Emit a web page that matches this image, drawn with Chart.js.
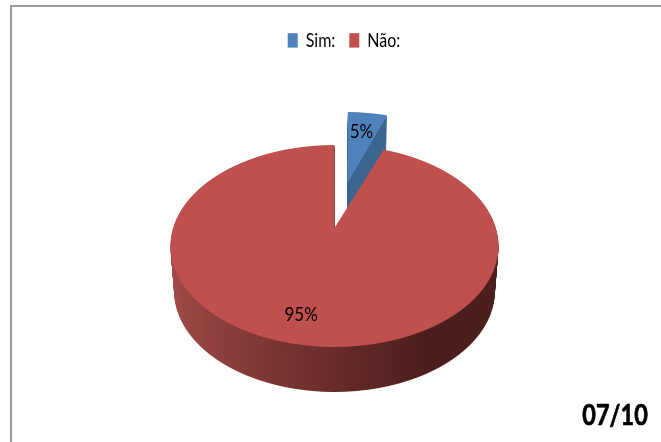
<!DOCTYPE html>
<html>
<head>
<meta charset="utf-8">
<script src="https://cdn.jsdelivr.net/npm/chart.js@4"></script>
<style>
html, body { margin: 0; background: #fff; overflow: hidden; }
#wrap { position: relative; width: 661px; height: 442px; overflow: hidden; }
#frame { position: absolute; left: 10px; top: 5px; width: 660px; height: 450px; border: 2px solid #9a9a9a; box-sizing: border-box; }
#pie { position: absolute; left: 0; top: 0; }
#stamp { position: absolute; right: 13px; top: 396px; font: bold 29px Lato, sans-serif; color: #000; -webkit-text-stroke: 0.7px #000; transform: scaleX(0.81); transform-origin: right center; }
</style>
</head>
<body>
<div id="wrap">
  <div id="frame"></div>
  <canvas id="pie" width="661" height="442"></canvas>
  <div id="stamp">07/10</div>
</div>
<script>
const categories = ['Sim:', 'Não:'];
const percents = [5, 95];
const sliceColors = ['#4f81bd', '#c0504d'];
const wallColors = ['#3c6590', null];
const explode = [84, 0];      // how far each slice is pulled out of the pie
const sliceTurn = [-2, 0];    // degrees, pulled slice sits a bit off its slot
const labelReach = [0.71, 0.78];
const labelNudge = [[-1, 1], [-7, 0]];

// perspective of the pie: tilt squashes y, far edge shrinks by 1 + persp * v
const RADIUS = 164;
const DEPTH = 45;
const tilt = 0.596;
const persp = 0.001087;
const widthScale = 0.984;
const apexY = 228;
const pieShiftX = -9.5;       // legend is centred further right than the pie
const legendStretch = 1.2;
const labelStretch = 1.15;

// screen row -> row on the flat pie, with the local scales at that row
function rowAt(y) {
    const d = y - apexY;
    const den = tilt + persp * d;
    const v = d / den;
    return { v, w: 1 - persp * v, dvdy: tilt / (den * den) };
}

function project(cx, u, v) {
    const w = 1 - persp * v;
    return { x: cx + widthScale * u / w, y: apexY + tilt * v / w };
}

// draws the arcs flat, one clipped pixel row at a time, so the library's
// circle comes out in perspective
function drawTilted(ctx, chart, arc, i, fill, dy, shrink) {
    const saved = arc.options;
    arc.options = Object.assign({}, saved, { backgroundColor: fill, borderWidth: 0 });
    const turn = sliceTurn[i] * Math.PI / 180;
    const mid = (arc.startAngle + arc.endAngle) / 2 + turn;
    const ox = Math.cos(mid) * explode[i];
    const oy = Math.sin(mid) * explode[i];
    const top = apexY - 130 + dy;
    const bottom = apexY + 122 + dy;
    for (let y = top; y < bottom; y++) {
        const r = rowAt(y + 0.5 - dy);
        const sx = widthScale * shrink / r.w;
        const sy = 1 / r.dvdy;
        ctx.save();
        ctx.beginPath();
        ctx.rect(0, y, chart.width, 1);
        ctx.clip();
        ctx.translate(arc.x + pieShiftX, y + 0.5);
        ctx.transform(sx, 0, 0, sy, 0, 0);
        ctx.translate(ox, oy - r.v);
        ctx.rotate(turn);
        ctx.translate(-arc.x, -arc.y);
        arc.draw(ctx);
        ctx.restore();
    }
    arc.options = saved;
}

const tiltedPie = {
    id: 'tiltedPie',
    afterInit(chart) {
        // legend text is tall and narrow, so stretch the whole box vertically
        const legend = chart.legend;
        const draw = legend.draw;
        legend.draw = function () {
            const ctx = chart.ctx;
            const midY = legend.top + legend.height / 2;
            ctx.save();
            ctx.translate(0, midY);
            ctx.scale(1, legendStretch);
            ctx.translate(0, -midY);
            draw.call(legend);
            ctx.restore();
        };
    },
    beforeDatasetsDraw(chart) {
        const ctx = chart.ctx;
        const arcs = chart.getDatasetMeta(0).data;
        const cx = arcs[0].x + pieShiftX;
        const side = ctx.createLinearGradient(cx - RADIUS, 0, cx + RADIUS, 0);
        side.addColorStop(0, '#a64e4b');
        side.addColorStop(0.5, '#6c2d2b');
        side.addColorStop(0.78, '#4a1e1c');
        side.addColorStop(1, '#4a1f1d');

        arcs.forEach((arc, i) => {
            for (let d = DEPTH; d > 0; d--) {
                drawTilted(ctx, chart, arc, i, wallColors[i] || side, d, 1 - 0.0005 * d);
            }
            drawTilted(ctx, chart, arc, i, sliceColors[i], 0, 1);
        });

        ctx.fillStyle = '#000';
        ctx.font = '17px Lato, sans-serif';
        ctx.textAlign = 'center';
        ctx.textBaseline = 'middle';
        arcs.forEach((arc, i) => {
            const mid = (arc.startAngle + arc.endAngle) / 2 + sliceTurn[i] * Math.PI / 180;
            const reach = explode[i] + labelReach[i] * RADIUS;
            const p = project(cx, Math.cos(mid) * reach, Math.sin(mid) * reach);
            ctx.save();
            ctx.translate(p.x + labelNudge[i][0], p.y + labelNudge[i][1]);
            ctx.scale(1, labelStretch);
            ctx.fillText(percents[i] + '%', 0, 0);
            ctx.restore();
        });
        return false;
    }
};

new Chart(document.getElementById('pie'), {
    type: 'pie',
    data: {
        labels: categories,
        datasets: [{
            data: percents,
            backgroundColor: sliceColors,
            borderWidth: 0
        }]
    },
    options: {
        responsive: false,
        animation: false,
        radius: RADIUS,
        rotation: 3,
        circumference: 357,
        layout: { padding: { left: 27, top: 18 } },
        plugins: {
            tooltip: { enabled: false },
            legend: {
                position: 'top',
                labels: {
                    color: '#000',
                    boxWidth: 10,
                    boxHeight: 12,
                    padding: 14,
                    font: { family: 'Lato, sans-serif', size: 16 }
                }
            }
        }
    },
    plugins: [tiltedPie]
});
</script>
</body>
</html>
